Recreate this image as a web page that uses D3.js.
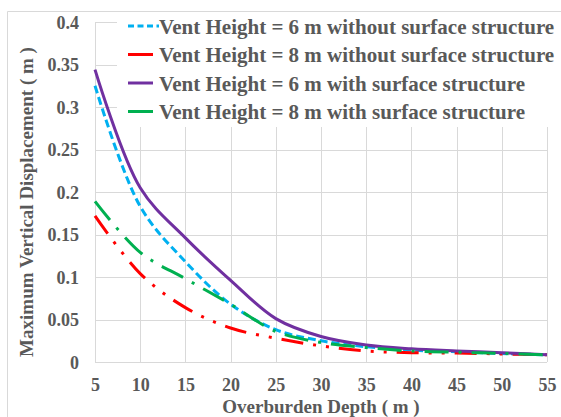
<!DOCTYPE html>
<html>
<head>
<meta charset="utf-8">
<script src="https://cdn.jsdelivr.net/npm/d3@7/dist/d3.min.js"></script>
<style>
  html, body { margin: 0; padding: 0; background: #fff; }
  svg { display: block; }
  text { font-family: "Liberation Serif", "Times New Roman", serif; font-weight: bold; fill: #595959; }
</style>
</head>
<body>
<svg id="chart" width="561" height="417"></svg>
<script>
// ---- data ----
const depths = [5, 10, 15, 20, 25, 30, 35, 40, 45, 50, 55];
const vent6Without = [0.325, 0.183, 0.118, 0.068, 0.038, 0.025, 0.018, 0.014, 0.012, 0.010, 0.0085];
const vent8Without = [0.172, 0.104, 0.064, 0.040, 0.028, 0.019, 0.013, 0.011, 0.0105, 0.0095, 0.0085];
const vent6With = [0.344, 0.205, 0.146, 0.096, 0.051, 0.030, 0.020, 0.0155, 0.013, 0.011, 0.0085];
const vent8With = [0.189, 0.129, 0.098, 0.068, 0.036, 0.023, 0.017, 0.013, 0.0115, 0.010, 0.0085];
const seriesNames = [
  "Vent Height = 6 m without surface structure",
  "Vent Height = 8 m without surface structure",
  "Vent Height = 6 m with surface structure",
  "Vent Height = 8 m with surface structure"
];
const xTicks = [5, 10, 15, 20, 25, 30, 35, 40, 45, 50, 55];
const yTicks = [0, 0.05, 0.1, 0.15, 0.2, 0.25, 0.3, 0.35, 0.4];
const yTickLabels = ["0", "0.05", "0.1", "0.15", "0.2", "0.25", "0.3", "0.35", "0.4"];
const xTitle = "Overburden Depth ( m )";
const yTitle = "Maximum Vertical Displacement ( m )";

// ---- styles ----
const styles = [
  { color: "#00B0F0", dash: "8,4", legendDash: "6,3.5" },
  { color: "#FF0000", dash: "22,10,3,10,3,10", legendDash: null },
  { color: "#7030A0", dash: null, legendDash: null },
  { color: "#00B050", dash: "24,10,3,10", legendDash: null }
];
const seriesValues = [vent6Without, vent8Without, vent6With, vent8With];

const svg = d3.select("#chart");
const W = 561, H = 417;
const plot = { left: 95, right: 547, top: 22, bottom: 362 };

// outer border
svg.append("path")
  .attr("d", `M7.5,${H} L7.5,11.5 L${W},11.5`)
  .attr("fill", "none").attr("stroke", "#d9d9d9").attr("stroke-width", 1);

const x = d3.scaleLinear().domain([5, 55]).range([plot.left, plot.right]);
const y = d3.scaleLinear().domain([0, 0.4]).range([plot.bottom, plot.top]);

// gridlines
const grid = svg.append("g");
grid.selectAll("line.h").data(yTicks).join("line")
  .attr("x1", plot.left).attr("x2", plot.right)
  .attr("y1", d => Math.round(y(d)) + 0.5).attr("y2", d => Math.round(y(d)) + 0.5)
  .attr("stroke", "#d9d9d9").attr("stroke-width", 1);
grid.selectAll("line.v").data(xTicks).join("line")
  .attr("y1", plot.top).attr("y2", plot.bottom)
  .attr("x1", d => Math.round(x(d)) + 0.5).attr("x2", d => Math.round(x(d)) + 0.5)
  .attr("stroke", "#d9d9d9").attr("stroke-width", 1);

// axes (labels only, lines are gridlines)
const xAxis = d3.axisBottom(x).tickValues(xTicks).tickSize(0).tickPadding(0).tickFormat(d3.format("d"));
const gx = svg.append("g").attr("transform", `translate(0,${plot.bottom})`).call(xAxis);
gx.select(".domain").remove();
gx.selectAll("text").attr("dy", null).attr("y", 29).style("font-size", "18px")
  .attr("fill", "#595959");

const yAxis = d3.axisLeft(y).tickValues(yTicks).tickSize(0).tickPadding(0)
  .tickFormat((d, i) => yTickLabels[i]);
const gy = svg.append("g").attr("transform", `translate(79,0)`).call(yAxis);
gy.select(".domain").remove();
gy.selectAll("text").attr("dy", null).attr("y", 6).attr("x", 0).style("font-size", "18px")
  .attr("fill", "#595959");
gy.attr("font-family", null).attr("font-size", null);
gx.attr("font-family", null).attr("font-size", null);

// lines
const line = d3.line()
  .x(d => x(d[0])).y(d => y(d[1]))
  .curve(d3.curveCatmullRom.alpha(0.5));
seriesValues.forEach((vals, i) => {
  const pts = depths.map((d, j) => [d, vals[j]]);
  svg.append("path")
    .datum(pts)
    .attr("d", line)
    .attr("fill", "none")
    .attr("stroke", styles[i].color)
    .attr("stroke-width", 3)
    .attr("stroke-dasharray", styles[i].dash)
    .attr("stroke-linejoin", "round");
});

// legend
const lg = svg.append("g");
lg.append("rect").attr("x", 117).attr("y", 12).attr("width", W - 117).attr("height", 115).attr("fill", "#fff");
const rowY = [26, 54.5, 83, 111.5];
seriesNames.forEach((name, i) => {
  lg.append("line")
    .attr("x1", 128).attr("x2", i === 0 ? 159 : 153)
    .attr("y1", rowY[i]).attr("y2", rowY[i])
    .attr("stroke", styles[i].color).attr("stroke-width", 3)
    .attr("stroke-dasharray", styles[i].legendDash);
  lg.append("text")
    .attr("x", 159).attr("y", rowY[i] + 7.5)
    .style("font-size", "21px")
    .text(name);
});

// axis titles
svg.append("text")
  .attr("x", (plot.left + plot.right) / 2).attr("y", 413)
  .attr("text-anchor", "middle").style("font-size", "19px")
  .text(xTitle);
svg.append("text")
  .attr("transform", `translate(33,${(plot.top + plot.bottom) / 2 + 10}) rotate(-90)`)
  .attr("text-anchor", "middle").style("font-size", "19px")
  .text(yTitle);
</script>
</body>
</html>
